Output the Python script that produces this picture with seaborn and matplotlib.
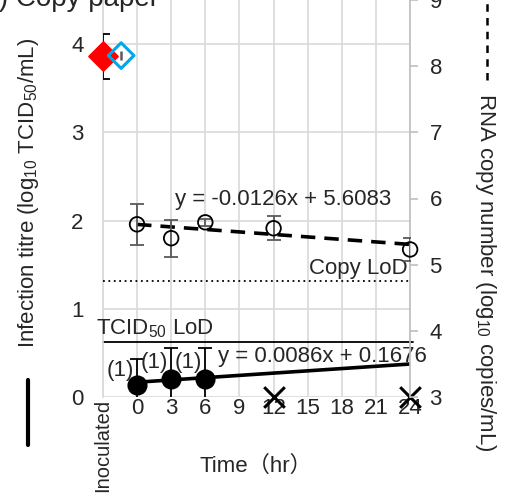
import matplotlib
matplotlib.use("Agg")
import matplotlib.pyplot as plt
from matplotlib.lines import Line2D
import seaborn as sns
import pandas as pd

# values
rna_hours = [0, 3, 6, 12, 24]
rna_copies = [5.61, 5.40, 5.64, 5.55, 5.23]
rna_err = [0.31, 0.28, 0.05, 0.18, 0.17]

titre_hours = [0, 3, 6]
titre_vals = [0.14, 0.20, 0.20]
titre_err = [0.29, 0.35, 0.35]
titre_n = ["(1)", "(1)", "(1)"]

nd_hours = [12, 24]  # not detected

inoc_titre, inoc_titre_err = 3.86, 0.25
inoc_rna, inoc_rna_err = 8.16, 0.07

rna_fit = (-0.0126, 5.6083)
titre_fit = (0.0086, 0.1676)
tcid_lod = 0.62
copy_lod = 4.76

xticks = [-3, 0, 3, 6, 9, 12, 15, 18, 21, 24]
xticklabels = ["Inoculated", "0", "3", "6", "9", "12", "15", "18", "21", "24"]

sns.set_style("whitegrid")
plt.rcParams["font.family"] = ["Liberation Sans", "Noto Sans CJK JP", "DejaVu Sans"]
plt.rcParams["mathtext.fontset"] = "custom"
plt.rcParams["mathtext.rm"] = "Liberation Sans"
plt.rcParams["mathtext.it"] = "Liberation Sans"
fs = 16

fig = plt.figure(figsize=(5.12, 5.0), dpi=100)
ax = fig.add_axes([0.201, 0.206, 0.600, 0.794])
ax2 = ax.twinx()

ax.set_xlim(-3, 24)
ax.set_ylim(0, 4.5)
ax2.set_ylim(3, 9)
ax.set_xticks(xticks)
ax.set_xticklabels(xticklabels, fontsize=fs)
inoc_lbl = ax.get_xticklabels()[0]
inoc_lbl.set_rotation(90)
inoc_lbl.set_va("top")
inoc_lbl.set_fontsize(14.5)
ax.set_yticks([0, 1, 2, 3, 4])
ax.set_yticklabels(["0", "1", "2", "3", "4"], fontsize=fs)
ax.tick_params(axis="y", length=0, pad=14)
ax.tick_params(axis="x", length=0, pad=1)
ax.grid(True, color="#d9d9d9", lw=1.2)
ax2.grid(False)
ax2.set_yticks([3, 4, 5, 6, 7, 8, 9])
ax2.tick_params(axis="y", length=6, color="#bfbfbf", width=1.2, labelsize=fs, pad=8)
for a in (ax, ax2):
    for s in a.spines.values():
        s.set_visible(False)
ax2.spines["right"].set_visible(True)
ax2.spines["right"].set_color("#bfbfbf")
ax2.spines["right"].set_linewidth(1.2)
ax.spines["left"].set_visible(True)
ax.spines["left"].set_color("#d9d9d9")
ax.spines["left"].set_linewidth(1.2)

# limits of detection
ax.axhline(tcid_lod, xmin=0, xmax=1.01, color="black", lw=1.3, clip_on=False)
ax2.axhline(copy_lod, color="black", lw=1.3, ls=(0, (1, 2)))
ax.text(-3.6, tcid_lod + 0.03, "TCID$_{50}$ LoD", fontsize=fs, ha="left", va="bottom")
ax.text(23.8, 1.34, "Copy LoD", fontsize=fs, ha="right", va="bottom")

# RNA copies (right axis)
rna_df = pd.DataFrame({"hour": rna_hours, "copies": rna_copies})
ax2.errorbar(rna_hours, rna_copies, yerr=rna_err, fmt="none", ecolor="#595959",
             elinewidth=1.3, capsize=5, capthick=1.3, zorder=3)
fit_x = [0, 24]
ax2.plot(fit_x, [rna_fit[0] * x + rna_fit[1] for x in fit_x], color="black", lw=2.6,
         ls=(0, (4, 2.5)), zorder=2)
sns.scatterplot(data=rna_df, x="hour", y="copies", ax=ax2, s=110, marker="o",
                facecolor="none", edgecolor="black", linewidth=1.3, zorder=4, clip_on=False)
ax2.text(3.3, 5.98, "y = -0.0126x + 5.6083", fontsize=fs, ha="left", va="center")

# inoculated RNA
ax2.errorbar([-1.4], [inoc_rna], yerr=[inoc_rna_err], fmt="none", ecolor="#595959",
             elinewidth=1.8, capsize=0, zorder=3)
sns.scatterplot(x=[-1.4], y=[inoc_rna], ax=ax2, marker="D", s=170, facecolor="none",
                edgecolor="#00a8e8", linewidth=2.2, zorder=4, clip_on=False)

# infection titre (left axis)
titre_df = pd.DataFrame({"hour": titre_hours, "titre": titre_vals})
ax.plot(fit_x, [titre_fit[0] * x + titre_fit[1] for x in fit_x], color="black", lw=2.6, zorder=3)
ax.errorbar(titre_hours, titre_vals, yerr=titre_err, fmt="none", ecolor="black",
            elinewidth=1.3, capsize=5, capthick=1.3, zorder=3)
sns.scatterplot(data=titre_df, x="hour", y="titre", ax=ax, s=180, color="black",
                edgecolor="black", zorder=4)
for h, v, e, n in zip(titre_hours, titre_vals, titre_err, titre_n):
    ax.text(h - 0.25, v + e * 0.55, n, fontsize=fs, ha="right", va="center")
ax.text(7.1, 0.46, "y = 0.0086x + 0.1676", fontsize=fs, ha="left", va="center")
sns.scatterplot(x=nd_hours, y=[0, 0], ax=ax, marker="x", s=220, color="black",
                linewidth=2.2, zorder=5, clip_on=False)

# inoculated titre
ax.errorbar([-3], [inoc_titre], yerr=[inoc_titre_err], fmt="none", ecolor="black",
            elinewidth=1.3, capsize=5, capthick=1.3, zorder=3)
sns.scatterplot(x=[-3], y=[inoc_titre], ax=ax, marker="D", s=220, color="red",
                edgecolor="red", zorder=4, clip_on=False)

ax.set_xlabel("")
ax.set_ylabel("")
ax2.set_xlabel("")
ax2.set_ylabel("")

# axis titles with line-style keys
fig.text(0.5, 0.068, "Time（hr）", fontsize=fs, ha="center", va="center")
fig.text(0.055, 0.615, "Infection titre (log$_{10}$ TCID$_{50}$/mL)", fontsize=fs,
         rotation=90, ha="center", va="center")
fig.add_artist(Line2D([0.055, 0.055], [0.11, 0.24], color="black", lw=3))
fig.text(0.948, 0.455, "RNA copy number (log$_{10}$ copies/mL)", fontsize=fs,
         rotation=270, ha="center", va="center")
fig.add_artist(Line2D([0.951, 0.951], [0.84, 1.0], color="black", lw=1.8, ls=(0, (3, 2.5))))

fig.text(-0.051, 0.988, "(a) Copy paper", fontsize=20, ha="left", va="baseline")

fig.savefig("out.png", dpi=100)
